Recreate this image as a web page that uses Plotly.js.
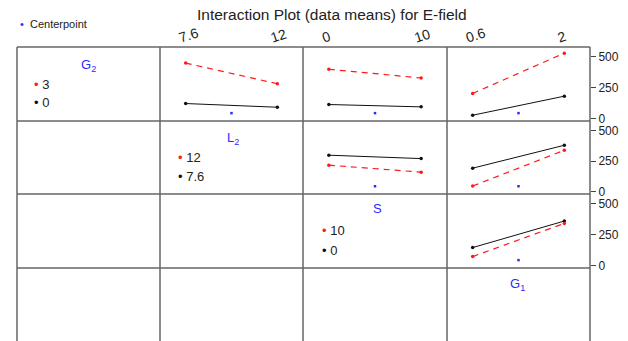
<!DOCTYPE html>
<html><head><meta charset="utf-8">
<script src="https://cdn.plot.ly/plotly-3.0.1.min.js"></script>
<style>html,body{margin:0;padding:0;background:#fff}#c{width:628px;height:341px}</style>
</head><body><div id="c"></div>
<script>
// factor levels
var L2 = [7.6, 12];
var S = [0, 10];
var G1 = [0.6, 2];
var G2 = [0, 3];
var levelLabels = {G2: ['0','3'], L2: ['7.6','12'], S: ['0','10'], G1: ['0.6','2']};
// means (low level = black, high level = red)
var G2_by_L2_low = [120, 90],  G2_by_L2_high = [449, 281];
var G2_by_S_low  = [112, 93],  G2_by_S_high  = [399, 328];
var G2_by_G1_low = [25, 180],  G2_by_G1_high = [202, 530];
var L2_by_S_low  = [298, 270], L2_by_S_high  = [216, 158];
var L2_by_G1_low = [191, 380], L2_by_G1_high = [44, 339];
var S_by_G1_low  = [144, 360], S_by_G1_high  = [71, 341];
var centerpoint = 42;
var yTicks = [0, 250, 500];

var W = 628, H = 341;
var colX = [17, 160, 303, 447, 590];
var rowY = [47, 121, 194, 268, 341];
function dx(i){ return [colX[i]/W, colX[i+1]/W]; }
function dy(j){ return [1 - rowY[j+1]/H, 1 - rowY[j]/H]; }
function xr(lv){ var d = lv[1]-lv[0]; return [lv[0]-0.28*d, lv[1]+0.28*d]; }

var RED = '#ff1a1a', BLK = '#111111', BLU = '#2b2bff';
var panels = [
  {r:0,c:1,x:L2,low:G2_by_L2_low,high:G2_by_L2_high,top:true,xl:'L2'},
  {r:0,c:2,x:S, low:G2_by_S_low, high:G2_by_S_high, top:true,xl:'S'},
  {r:0,c:3,x:G1,low:G2_by_G1_low,high:G2_by_G1_high,top:true,xl:'G1',right:true},
  {r:1,c:2,x:S, low:L2_by_S_low, high:L2_by_S_high, xl:'S'},
  {r:1,c:3,x:G1,low:L2_by_G1_low,high:L2_by_G1_high,xl:'G1',right:true},
  {r:2,c:3,x:G1,low:S_by_G1_low, high:S_by_G1_high, xl:'G1',right:true}
];
var traces = [], layout = {
  width: W, height: H, margin:{l:0,r:0,t:0,b:0}, showlegend:false,
  paper_bgcolor:'#fff', plot_bgcolor:'rgba(0,0,0,0)',
  font:{family:'Arial, Liberation Sans, sans-serif', color:'#222'},
  shapes:[], annotations:[]
};
panels.forEach(function(p, k){
  var n = k+1, xa = 'x'+(n>1?n:''), ya = 'y'+(n>1?n:'');
  var mid = (p.x[0]+p.x[1])/2;
  traces.push({x:p.x, y:p.low, xaxis:xa, yaxis:ya, mode:'lines+markers', line:{color:BLK,width:1}, marker:{color:BLK,size:3.5}});
  traces.push({x:p.x, y:p.high, xaxis:xa, yaxis:ya, mode:'lines+markers', line:{color:RED,width:1.2,dash:'6px,5px'}, marker:{color:RED,size:3.5}});
  traces.push({x:[mid], y:[centerpoint], xaxis:xa, yaxis:ya, mode:'markers', marker:{color:BLU,size:2.5,symbol:'square'}});
  layout['xaxis'+(n>1?n:'')] = {domain:dx(p.c), anchor:ya, range:xr(p.x), showgrid:false, zeroline:false, showline:false,
    side:'top', tickvals:p.x, ticktext:levelLabels[p.xl], showticklabels:!!p.top, ticks:'', tickangle:-18,
    ticklabelshift:-7, ticklabelstandoff:0,
    tickfont:{size:14, color:'#222'}, fixedrange:true};
  layout['yaxis'+(n>1?n:'')] = {domain:dy(p.r), anchor:xa, range:[-22,580], showgrid:false, zeroline:false, showline:false,
    side:'right', tickvals:yTicks, showticklabels:!!p.right, ticks:p.right?'outside':'', ticklen:5, tickcolor:'#444',
    tickfont:{size:12, color:'#222'}, fixedrange:true};
});
// grid lines
colX.forEach(function(x){ layout.shapes.push({type:'line', xref:'paper', yref:'paper', x0:x/W, x1:x/W, y0:1-rowY[0]/H, y1:0, line:{color:'#666',width:1.5}}); });
rowY.slice(0,4).forEach(function(y){ layout.shapes.push({type:'line', xref:'paper', yref:'paper', x0:colX[0]/W, x1:colX[4]/W, y0:1-y/H, y1:1-y/H, line:{color:'#666',width:1.5}}); });

function ann(x,y,text,opt){ var a = {xref:'paper',yref:'paper',x:x/W,y:1-y/H,text:text,showarrow:false,xanchor:'center',yanchor:'middle',font:{size:12,color:'#222'}}; for (var k in opt) a[k]=opt[k]; layout.annotations.push(a); }
ann(332, 15, 'Interaction Plot (data means) for E-field', {font:{size:15.5,color:'#222'}});
ann(18, 24, '<span style="color:'+BLU+'">•</span>  Centerpoint', {xanchor:'left', font:{size:11,color:'#222'}});
// factor names on diagonal
var names = [['G<sub>2</sub>',88,65],['L<sub>2</sub>',233,138],['S',377,208],['G<sub>1</sub>',517,284]];
names.forEach(function(nm){ ann(nm[1], nm[2], nm[0], {font:{size:13,color:BLU}}); });
// level legends
var legs = [[G2,'G2',32,84],[L2,'L2',176,157],[S,'S',320,231]];
legs.forEach(function(l){
  var lab = levelLabels[l[1]];
  ann(l[2], l[3], '<span style="color:'+RED+'">•</span> '+lab[1], {xanchor:'left', font:{size:13,color:'#222'}});
  ann(l[2], l[3]+19, '<span style="color:'+BLK+'">•</span> '+lab[0], {xanchor:'left', font:{size:13,color:'#222'}});
});
Plotly.newPlot('c', traces, layout, {staticPlot:true});
</script></body></html>
